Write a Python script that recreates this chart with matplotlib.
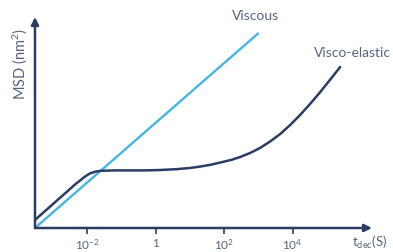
import numpy as np
import matplotlib
matplotlib.use("Agg")
import matplotlib.pyplot as plt

plt.rcParams['font.family'] = ['Lato', 'DejaVu Sans']
plt.rcParams['mathtext.fontset'] = 'custom'
plt.rcParams['mathtext.rm'] = 'Lato'
plt.rcParams['mathtext.it'] = 'Lato'

# ---- data (log10 of lag time, MSD in arbitrary units) ----
tick_exps = [-2, 0, 2, 4]
tick_labels = ['10$^{-2}$', '1', '10$^{2}$', '10$^{4}$']

viscous_logt = [-3.52, 3.01]
viscous_msd = [0.0, 9.75]

elastic_logt = [-3.52, -3.1, -2.79, -2.55, -2.35, -2.2, -2.1, -2.0, -1.9, -1.75,
                -1.6, -1.2, -0.74, -0.3, 0.13, 0.6, 1.0, 1.3, 1.6, 1.88,
                2.2, 2.47, 2.76, 3.05, 3.34, 3.64, 3.93, 4.22, 4.51, 4.80, 5.09, 5.39]
elastic_msd = [0.4, 1.04, 1.51, 1.87, 2.18, 2.38, 2.52, 2.64, 2.74, 2.82,
               2.86, 2.88, 2.88, 2.88, 2.9, 2.94, 3.0, 3.07, 3.16, 3.27,
               3.4, 3.55, 3.75, 4.0, 4.32, 4.7, 5.15, 5.65, 6.2, 6.78, 7.4, 8.05]

navy = '#2c3d62'
light = '#45b6e3'
text_c = '#55647f'

fig = plt.figure(figsize=(3.93, 2.52), dpi=100)
W, H = 393, 252
ax = fig.add_axes([35 / W, (H - 228) / H, (372 - 35) / W, (228 - 17) / H])

ax.plot(10 ** np.array(viscous_logt), viscous_msd, color=light, lw=1.7, solid_capstyle='butt')
ax.plot(10 ** np.array(elastic_logt), elastic_msd, color=navy, lw=1.8, solid_capstyle='round')

ax.set_xscale('log')
ax.set_xlim(10 ** -3.52, 10 ** 6.32)
ax.set_ylim(0, 10.55)

for s in ax.spines.values():
    s.set_visible(False)

# axis arrows
ax.annotate('', xy=(1, 0), xytext=(0, 0), xycoords='axes fraction',
            arrowprops=dict(arrowstyle='-|>', color=navy, lw=1.8,
                            mutation_scale=11, shrinkA=0, shrinkB=0))
ax.annotate('', xy=(0, 1), xytext=(0, 0), xycoords='axes fraction',
            arrowprops=dict(arrowstyle='-|>', color=navy, lw=1.8,
                            mutation_scale=11, shrinkA=0, shrinkB=0))

ax.set_xticks([10.0 ** e for e in tick_exps])
ax.set_xticklabels(tick_labels)
ax.xaxis.set_minor_locator(matplotlib.ticker.NullLocator())
ax.set_yticks([])
ax.tick_params(axis='x', direction='out', length=4, width=1.2, color=navy,
               labelcolor=text_c, labelsize=8.5, pad=3)

fig.text(20 / W, 1 - 64 / H, 'MSD (nm$^{2}$)', color=text_c, fontsize=10.5,
         rotation=90, ha='center', va='center')

fig.text(256 / W, 1 - 16 / H, 'Viscous', color=text_c, fontsize=10, ha='center', va='center')
fig.text(314 / W, 1 - 53 / H, 'Visco-elastic', color=text_c, fontsize=10, ha='left', va='center')
fig.text(352 / W, 1 - 242 / H, 't$_{\\mathrm{dec}}$(S)', color=text_c, fontsize=9.5,
         ha='left', va='center')

fig.savefig('out.png', dpi=100)
